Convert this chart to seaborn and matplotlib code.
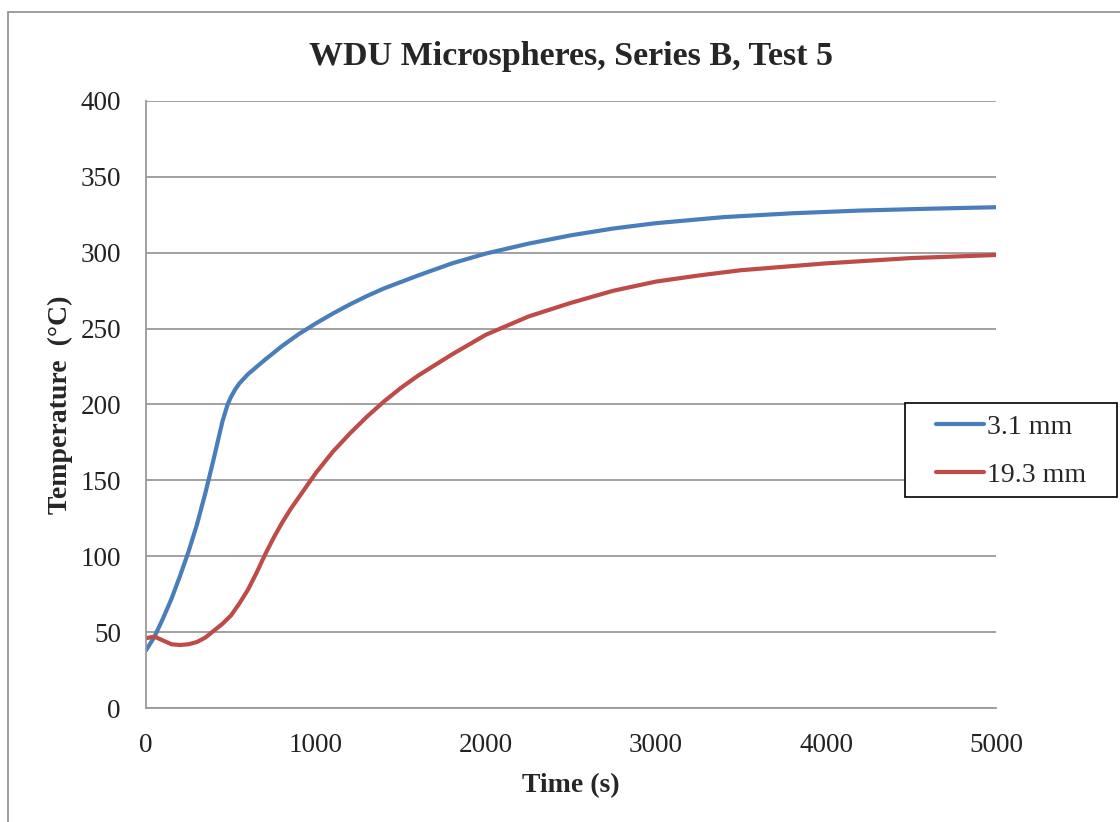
import matplotlib
matplotlib.use("Agg")
import matplotlib.pyplot as plt
import seaborn as sns
import pandas as pd
from matplotlib.patches import Rectangle

# ---- data ----
time_a = [0, 50, 100, 150, 200, 250, 300, 350, 400, 450, 480, 500, 525, 550, 600,
          700, 800, 900, 1000, 1100, 1200, 1300, 1400, 1600, 1800, 2000, 2250,
          2500, 2750, 3000, 3200, 3400, 3800, 4200, 4600, 5000]
temp_a = [38, 47, 59, 72, 87, 103, 121, 142, 165, 189, 200, 205, 210, 214, 220,
          229.5, 238.5, 246.5, 253.5, 260, 266, 271.5, 276.5, 285, 293, 299.5, 306,
          311.5, 316, 319.5, 321.5, 323.5, 326, 327.8, 329, 330]

time_b = [0, 50, 100, 150, 200, 250, 300, 350, 400, 450, 500, 550, 600, 650, 700,
          750, 800, 850, 900, 950, 1000, 1100, 1200, 1300, 1400, 1500, 1600, 1800,
          2000, 2250, 2500, 2750, 3000, 3250, 3500, 4000, 4500, 5000]
temp_b = [46, 47, 44.5, 42, 41.5, 42, 43.5, 46.5, 51, 55.5, 61, 69, 78, 89, 101,
          112, 122, 131, 139, 147, 155, 169, 181, 192, 202, 211, 219, 233,
          246, 258, 267, 275, 281, 285, 288.5, 293, 296.5, 298.5]

series_names = ["3.1 mm", "19.3 mm"]
title = "WDU Microspheres, Series B, Test 5"
xlabel = "Time (s)"
ylabel = "Temperature  (\u00b0C)"
x_ticks = [0, 1000, 2000, 3000, 4000, 5000]
y_ticks = [0, 50, 100, 150, 200, 250, 300, 350, 400]

df = pd.concat([
    pd.DataFrame({"Time": time_a, "Temp": temp_a, "Series": series_names[0]}),
    pd.DataFrame({"Time": time_b, "Temp": temp_b, "Series": series_names[1]}),
])

sns.set_theme(style="white")
plt.rcParams["font.family"] = ["Liberation Serif", "DejaVu Serif"]

fig = plt.figure(figsize=(11.2, 8.22), dpi=100)
ax = fig.add_axes([146/1120, 1-708/822, (996-146)/1120, (708-101)/822])

grey = "#9a9a9a"
sns.lineplot(data=df, x="Time", y="Temp", hue="Series",
             palette=["#4a7ebb", "#be4b48"], linewidth=3.0, ax=ax)

ax.set_xlim(0, 5000)
ax.set_ylim(0, 400)
ax.set_xticks(x_ticks)
ax.set_yticks(y_ticks)
ax.tick_params(axis="both", labelsize=19.5, colors="#222222", direction="out",
               length=7, width=1.3)
ax.tick_params(axis="x", color=grey, pad=11)
ax.tick_params(axis="y", color=grey, pad=11)
ax.yaxis.grid(True, color=grey, linewidth=1.3)
ax.xaxis.grid(False)
for side in ["top", "right"]:
    ax.spines[side].set_visible(False)
for side in ["left", "bottom"]:
    ax.spines[side].set_color(grey)
    ax.spines[side].set_linewidth(1.3)

ax.set_title(title, fontsize=24.5, fontweight="bold", pad=26)
ax.set_xlabel(xlabel, fontsize=20, fontweight="bold", labelpad=11)
ax.set_ylabel(ylabel, fontsize=20, fontweight="bold", labelpad=5)

# legend box (frame drawn separately to match its padding)
box = Rectangle(((905-146)/850, (708-497)/607), 212/850, 94/607,
                transform=ax.transAxes, clip_on=False, facecolor="white",
                edgecolor="black", linewidth=1.2, zorder=4.5)
ax.add_patch(box)
leg = ax.legend(loc="center", bbox_to_anchor=((1011-146)/850, (708-451)/607),
                fontsize=20, frameon=False, handlelength=1.75, handletextpad=0.1,
                labelspacing=0.8, borderpad=0, borderaxespad=0)
leg.set_zorder(5)

fig.patches.append(Rectangle((8/1120, -0.1), 1.2, 1.1 - 12/822,
                             transform=fig.transFigure, fill=False,
                             edgecolor="#8c8c8c", linewidth=1.2))

fig.savefig("out.png", dpi=100)
